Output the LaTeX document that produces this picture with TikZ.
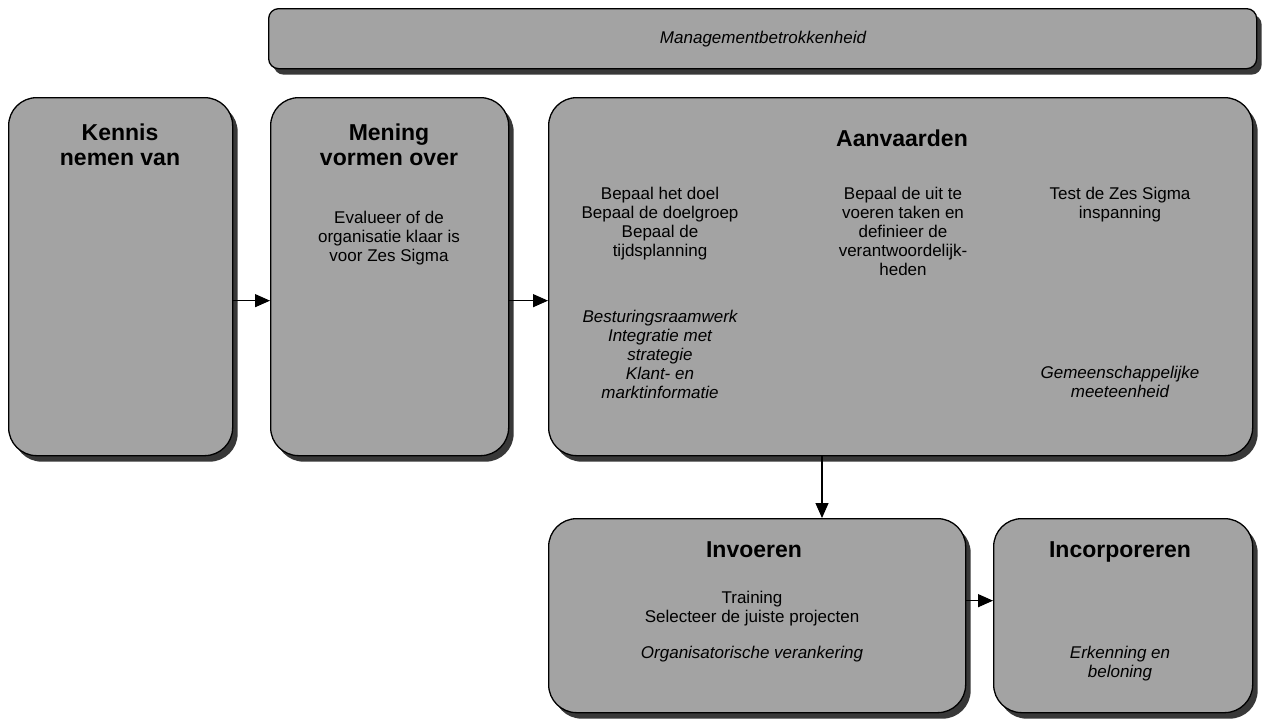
\documentclass[tikz,border=0pt]{standalone}
\usepackage{fontspec}
\setmainfont{Liberation Sans}
\usetikzlibrary{shadows,arrows.meta,calc}
\begin{document}
\begin{tikzpicture}[x=1pt,y=-1pt,
  box/.style={draw=black,line width=1.3pt,fill=black!36,rounded corners=#1,
    drop shadow={shadow xshift=5pt,shadow yshift=-6pt,fill=black!78,opacity=1},
    inner sep=0pt,anchor=north west},
  box/.default=28pt,
  ttl/.style={font=\fontsize{23}{25}\selectfont\bfseries,align=center,inner sep=0pt,anchor=base},
  txt/.style={font=\fontsize{17}{19}\selectfont,align=center,inner sep=0pt,anchor=base},
  itx/.style={txt,font=\fontsize{17}{19}\selectfont\itshape},
  arr/.style={line width=1.3pt,-{Triangle[length=15pt,width=13pt]}}]
\useasboundingbox (0,0) rectangle (1263,721);
\fill[white] (0,0) rectangle (1263,721);

% boxes
\node[box=10pt,minimum width=988pt,minimum height=60pt] (mgmt) at (268,8) {};
\node[box,minimum width=224pt,minimum height=358pt] (kennis) at (8,97) {};
\node[box,minimum width=238pt,minimum height=358pt] (mening) at (270,97) {};
\node[box,minimum width=704pt,minimum height=358pt] (aanv) at (548,97) {};
\node[box,minimum width=417pt,minimum height=194pt] (invo) at (548,518) {};
\node[box,minimum width=259pt,minimum height=194pt] (inco) at (993,518) {};

% texts (each node is placed at the baseline of its last line)
\node[itx] (tm) at (763,43) {Managementbetrokkenheid};

\node[ttl] (t1) at (120,165) {Kennis\\nemen van};
\node[ttl] (t2) at (389,165) {Mening\\vormen over};
\node[txt] (b2) at (389,261) {Evalueer of de\\organisatie klaar is\\voor Zes Sigma};

\node[ttl] (t3) at (902,146) {Aanvaarden};
\node[txt] (c1) at (660,256) {Bepaal het doel\\Bepaal de doelgroep\\Bepaal de\\tijdsplanning};
\node[itx] (c1i) at (660,398) {Besturingsraamwerk\\Integratie met\\strategie\\Klant- en\\marktinformatie};
\node[txt] (c2) at (903,275) {Bepaal de uit te\\voeren taken en\\definieer de\\verantwoordelijk-\\heden};
\node[txt] (c3) at (1120,218) {Test de Zes Sigma\\inspanning};
\node[itx] (c3i) at (1120,397) {Gemeenschappelijke\\meeteenheid};

\node[ttl] (t4) at (754,557) {Invoeren};
\node[txt] (d1) at (752,622) {Training\\Selecteer de juiste projecten};
\node[itx] (d2) at (752,658) {Organisatorische verankering};

\node[ttl] (t5) at (1120,557) {Incorporeren};
\node[itx] (e1) at (1120,677) {Erkenning en\\beloning};

% connectors
\coordinate (dn) at (822,0);
\draw[arr] ([yshift=-24pt]kennis.east) -- ([yshift=-24pt]mening.west);
\draw[arr] ([yshift=-24pt]mening.east) -- ([yshift=-24pt]aanv.west);
\draw[arr] (aanv.south -| dn) -- (invo.north -| dn);
\draw[arr] ([yshift=15pt]invo.east) -- ([yshift=15pt]inco.west);
\end{tikzpicture}
\end{document}
